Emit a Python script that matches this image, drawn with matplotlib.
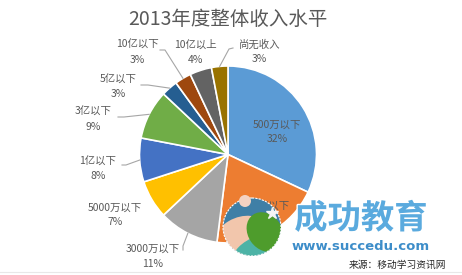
import matplotlib
matplotlib.use("Agg")
import matplotlib.pyplot as plt
import numpy as np
from matplotlib.patches import Circle, Ellipse, Polygon
import matplotlib.patheffects as pe

plt.rcParams['font.family'] = ['Noto Sans CJK SC', 'DejaVu Sans']

# ---- data ----
title = "2013年度整体收入水平"
categories = ["500万以下", "1000万以下", "3000万以下", "5000万以下", "1亿以下",
              "3亿以下", "5亿以下", "10亿以下", "10亿以上", "尚无收入"]
values = [32, 20, 11, 7, 8, 9, 3, 3, 4, 3]
colors = ["#5B9BD5", "#ED7D31", "#A5A5A5", "#FFC000", "#4472C4",
          "#70AD47", "#255E91", "#9E480E", "#636363", "#997300"]
source = "来源：移动学习资讯网"
brand = "成功教育"
url = "www.succedu.com"

# ---- layout (pixels) ----
W, H = 462, 275
cx, cy, R = 228, 154.5, 88.5
# label centre (x, y of name line, y of percent line)
label_pos = [(277, 125, 139), (262, 206, 221), (153, 249, 264), (115, 208, 222),
             (98, 162, 176), (93, 112, 127), (118, 80, 94), (137, 45, 60),
             (195, 45, 60), (259, 45, 59)]
# leader line start points (None = no leader)
leader_start = [None, None, [(183, 250), (183, 246)], None,
                [(122, 165), (126, 165)], [(118, 117), (124, 117)],
                [(141, 85), (148, 85)], [(160, 50), (165, 50)], None,
                [(233, 48), (229, 49)]]

fig = plt.figure(figsize=(W / 100, H / 100), dpi=100)
fig.patch.set_facecolor("white")

ax = fig.add_axes([(cx - R) / W, (H - cy - R) / H, 2 * R / W, 2 * R / H])
ax.pie(values, colors=colors, startangle=90, counterclock=False, radius=1,
       wedgeprops=dict(edgecolor="white", linewidth=1.2))
ax.set_xlim(-1, 1)
ax.set_ylim(-1, 1)
ax.set_aspect("auto")
ax.axis("off")

# overlay axes in pixel coords
ov = fig.add_axes([0, 0, 1, 1], zorder=5)
ov.set_xlim(0, W)
ov.set_ylim(H, 0)
ov.axis("off")
ov.patch.set_alpha(0)

ov.text(W / 2 - 3, 19, title, ha="center", va="center", fontsize=14, color="#595959")

# slice labels
total = sum(values)
cum = 0
for i, (cat, v) in enumerate(zip(categories, values)):
    mid = 90 - 360 * (cum + v / 2) / total
    cum += v
    x, y1, y2 = label_pos[i]
    ov.text(x, y1, cat, ha="center", va="center", fontsize=7.5, color="#595959")
    ov.text(x, y2, f"{v}%", ha="center", va="center", fontsize=7.5, color="#595959")
    if leader_start[i] is not None:
        px = cx + R * np.cos(np.radians(mid))
        py = cy - R * np.sin(np.radians(mid))
        pts = leader_start[i] + [(px, py)]
        ov.plot([p[0] for p in pts], [p[1] for p in pts], color="#A6A6A6", lw=0.8)

# watermark logo
lc = (252, 227)
lr = 29
clip = Circle(lc, lr, transform=ov.transData)
base = Circle(lc, lr, facecolor="#3F7FA6", edgecolor="none", zorder=6)
ov.add_patch(base)
parts = [
    Ellipse((240, 240), 60, 44, angle=-30, facecolor="#F2C6AC", edgecolor="none", zorder=7),
    Ellipse((262, 250), 60, 30, angle=-20, facecolor="#4DB3A6", edgecolor="none", zorder=7),
    Ellipse((265, 232), 34, 42, angle=-35, facecolor="#4E9C2C", edgecolor="none", zorder=8),
]
for p in parts:
    ov.add_patch(p)
    p.set_clip_path(clip)
ov.add_patch(Circle(lc, lr, facecolor="none", edgecolor="white", lw=0.8,
                    linestyle=(0, (2, 1)), zorder=9))
ov.add_patch(Circle((245, 201), 6, facecolor="#F3D2C2", edgecolor="none", zorder=9))
ov.plot([272], [213], marker="*", color="#F5F5F5", markersize=9, zorder=10)

ov.text(361, 219, brand, ha="center", va="center", fontsize=24, fontweight="bold",
        color="#5AAADE", zorder=11,
        path_effects=[pe.withStroke(linewidth=2, foreground="white")])
ov.text(361, 247, url, ha="center", va="center", fontsize=9.5, fontweight="bold",
        family="DejaVu Sans", color="#3D8DC9", zorder=11)
ov.text(397, 265, source, ha="center", va="center", fontsize=7, color="#262626", zorder=11)
ov.plot([0, W], [272, 272], color="#E8E8E8", lw=0.8, zorder=4)

fig.savefig("out.png", dpi=100, facecolor="white")
